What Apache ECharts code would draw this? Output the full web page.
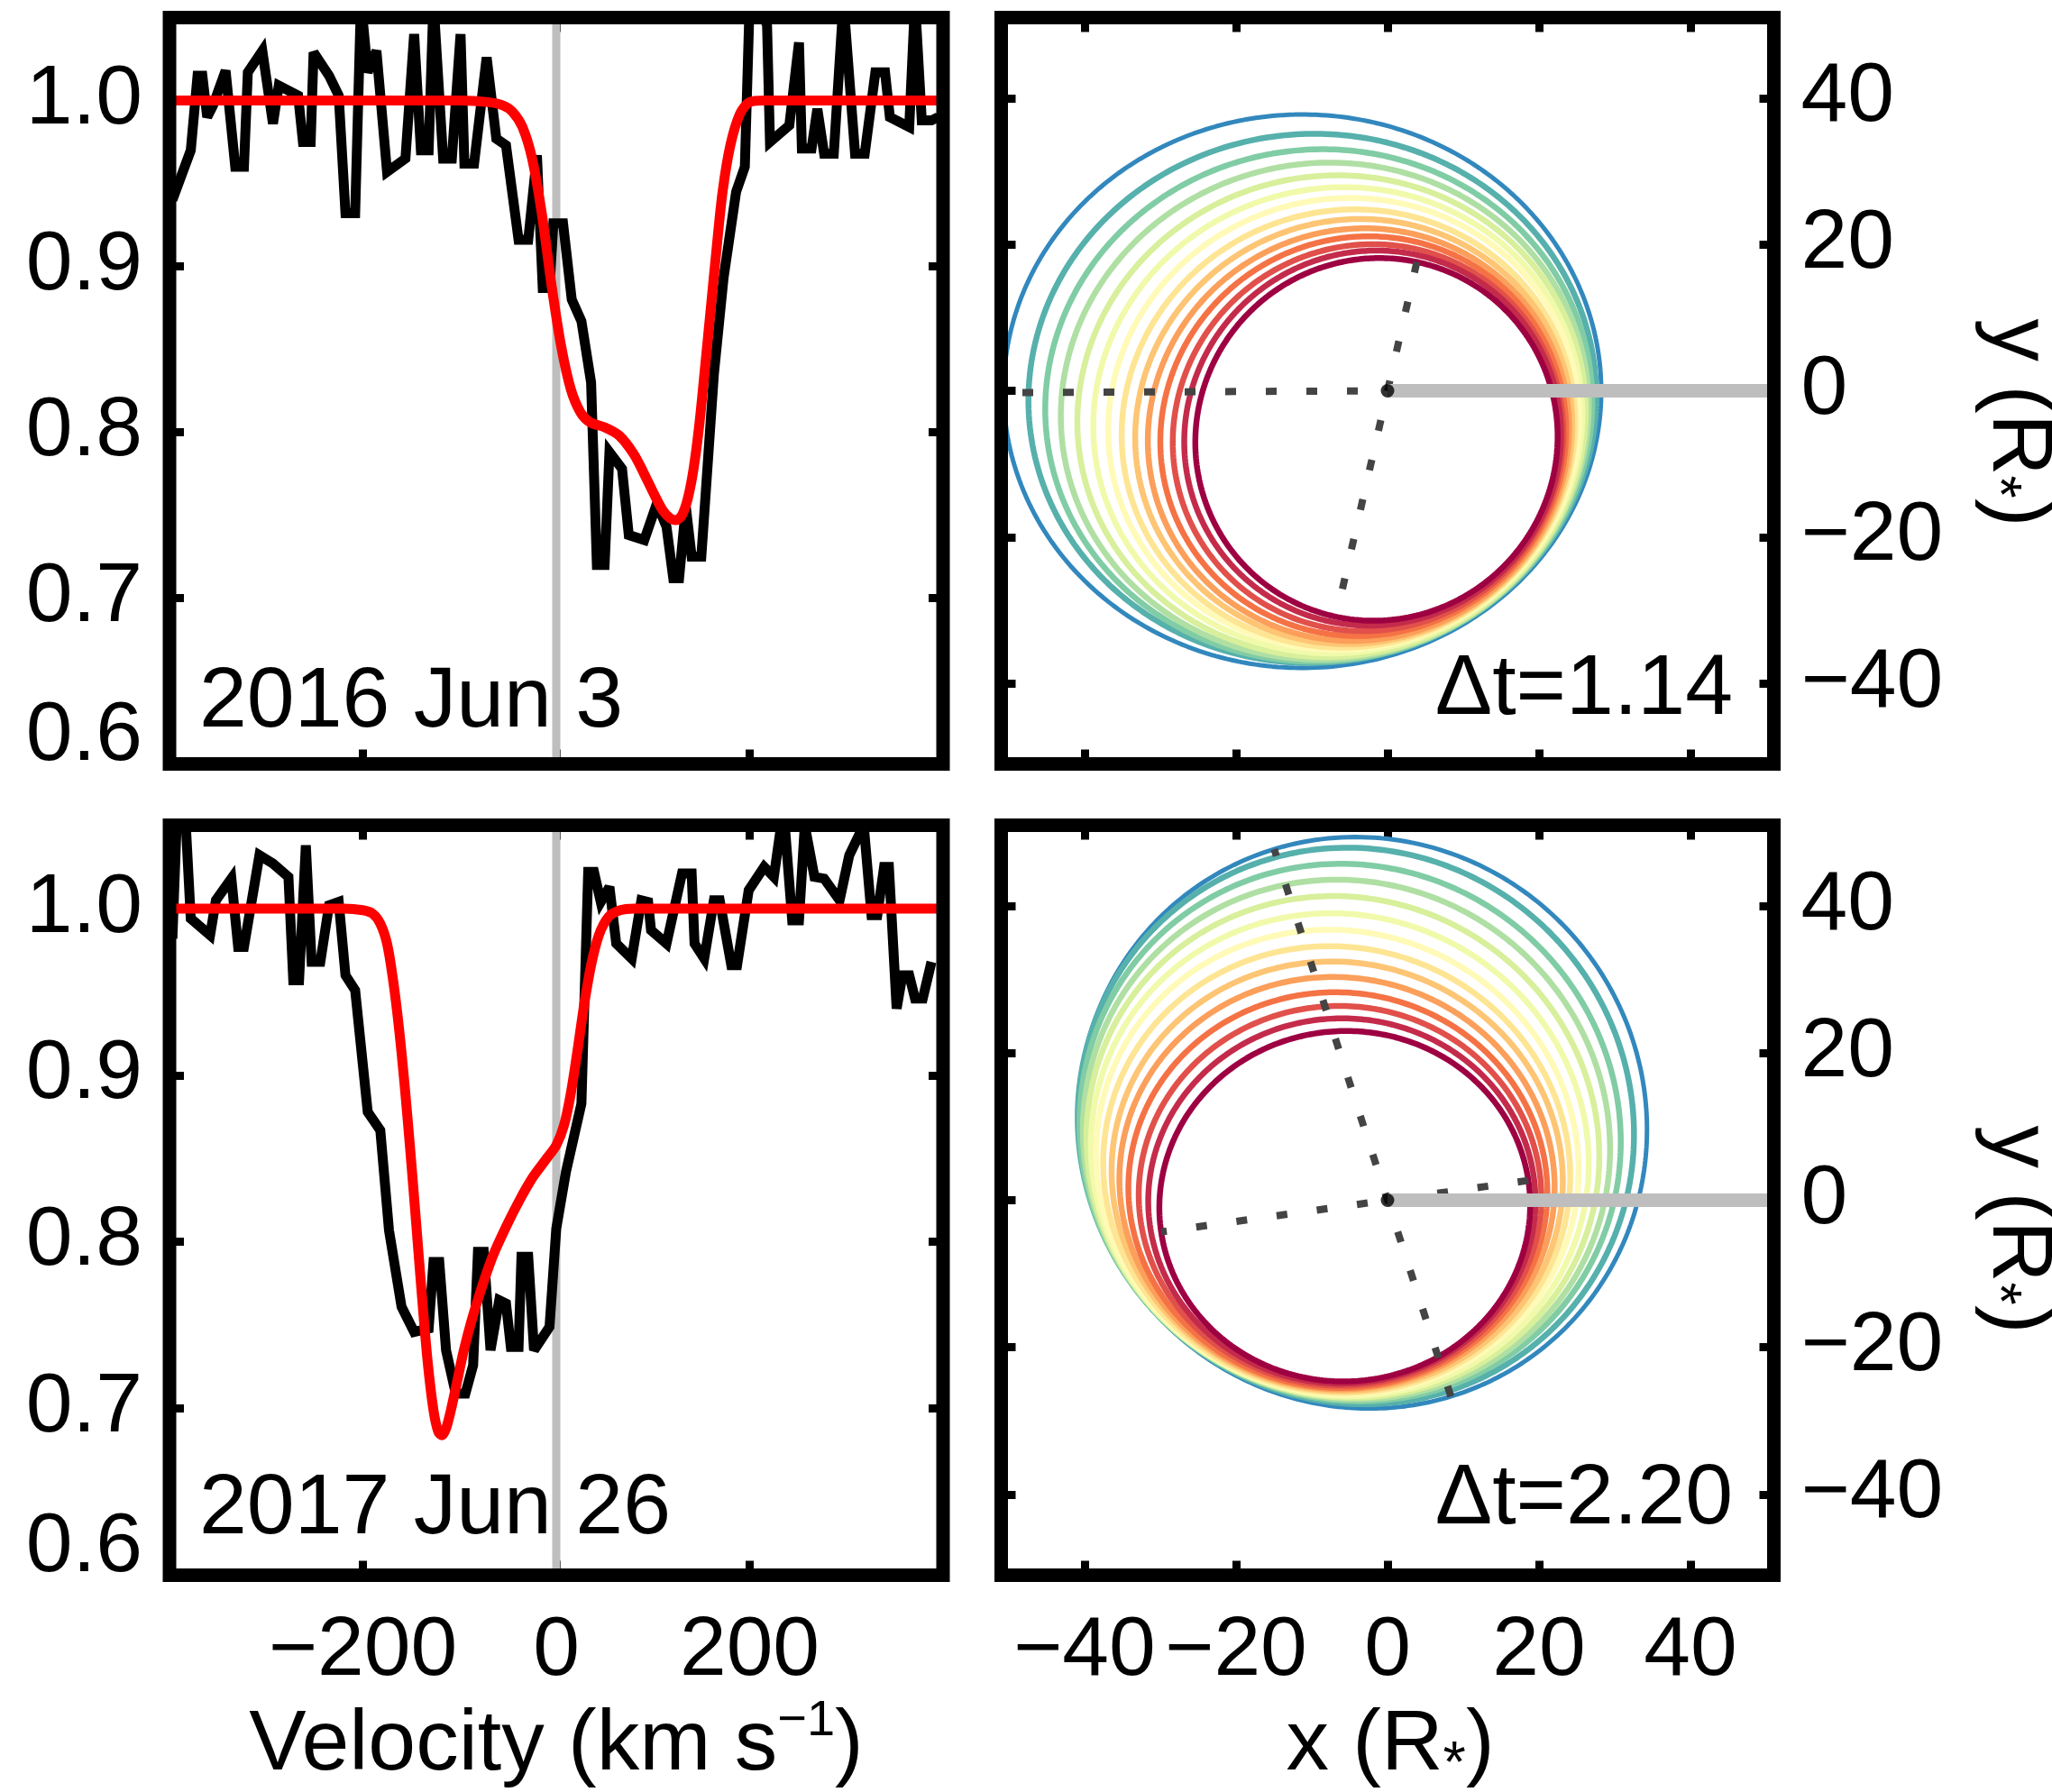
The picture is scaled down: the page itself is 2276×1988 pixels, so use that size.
<!DOCTYPE html>
<html>
<head>
<meta charset="utf-8">
<script src="https://cdn.jsdelivr.net/npm/echarts@6/dist/echarts.min.js"></script>
<style>
  html, body { margin: 0; padding: 0; background: #fff; }
  #chart { width: 2276px; height: 1988px; }
</style>
</head>
<body>
<div id="chart"></div>
<script>
// ---------- line profiles (velocity in km/s, normalised flux) ----------
const obs2016Vel  = [-397,-378,-371,-366,-361,-355,-342,-332,-323,-319,-304,-293,-287,-267,-262,-254,-251,-235,-225,-218,-208,-202,-195,-186,-175,-156,-147,-140,-132,-127,-117,-108,-99,-95,-85,-72,-62,-52,-39,-29,-20,-14,-7,-3,7,16,26,36,42,50,55,68,75,91,104,114,121,127,134,140,150,163,173,186,195,200,210,218,221,241,251,254,264,270,277,287,297,309,319,330,340,345,365,371,378,388,395];
const obs2016Flux = [0.94,0.97,1.015,1.015,0.99,0.997,1.018,0.96,0.96,1.017,1.03,0.986,1.009,1.003,0.975,0.975,1.029,1.015,1.003,0.932,0.932,1.06,1.017,1.03,0.957,0.965,1.04,0.97,0.97,1.06,0.965,0.965,1.04,0.962,0.962,1.026,0.977,0.973,0.916,0.916,0.967,0.887,0.887,0.926,0.926,0.88,0.867,0.83,0.72,0.72,0.788,0.778,0.738,0.735,0.757,0.743,0.712,0.712,0.755,0.725,0.725,0.835,0.893,0.945,0.96,1.06,1.06,1.045,0.975,0.985,1.035,0.971,0.971,0.995,0.968,0.968,1.06,0.968,0.968,1.017,1.017,0.99,0.984,1.06,0.988,0.988,0.99];

const model2016Vel  = [-400,-200,-100,-70,-55,-45,-35,-25,-15,-5,5,15,25,35,50,65,80,90,100,110,118,124,130,136,142,148,154,160,166,172,180,190,200,215,300,400];
const model2016Flux = [1,1,1,0.999,0.997,0.993,0.984,0.965,0.932,0.889,0.852,0.826,0.812,0.806,0.803,0.798,0.787,0.776,0.764,0.753,0.748,0.747,0.750,0.760,0.778,0.805,0.840,0.876,0.912,0.945,0.973,0.992,0.999,1,1,1];

const obs2017Vel  = [-397,-392,-384,-378,-358,-352,-336,-329,-323,-307,-293,-277,-272,-266,-259,-253,-244,-235,-225,-218,-208,-195,-182,-173,-160,-147,-132,-127,-121,-114,-104,-94,-86,-81,-75,-68,-59,-52,-47,-39,-36,-29,-23,-7,0,10,26,33,39,46,55,62,78,88,95,98,114,130,140,143,153,163,169,181,187,199,215,225,235,244,251,257,267,277,293,303,318,326,332,339,344,352,358,365,371,379,388];
const obs2017Flux = [0.982,1.06,1.06,0.994,0.984,1.005,1.018,0.977,0.977,1.032,1.027,1.019,0.957,0.957,1.038,0.968,0.968,1.002,1.004,0.96,0.951,0.878,0.867,0.807,0.761,0.746,0.748,0.788,0.788,0.735,0.709,0.709,0.726,0.794,0.794,0.735,0.765,0.763,0.737,0.737,0.791,0.791,0.735,0.749,0.808,0.842,0.883,1.022,1.022,1.004,1.013,0.979,0.97,1.005,1.004,0.987,0.979,1.021,1.021,0.979,0.97,1.005,1.005,0.966,0.966,1.011,1.025,1.019,1.06,0.993,0.993,1.05,1.019,1.018,1.005,1.032,1.05,0.996,0.996,1.025,1.025,0.94,0.96,0.96,0.946,0.946,0.968];

const model2017Vel  = [-400,-300,-220,-200,-190,-182,-175,-169,-163,-157,-151,-145,-139,-133,-127,-122,-118,-114,-109,-103,-96,-88,-78,-66,-52,-38,-24,-10,0,8,15,22,29,36,44,54,66,80,100,200,400];
const model2017Flux = [1,1,1,0.999,0.997,0.991,0.979,0.958,0.930,0.895,0.855,0.812,0.768,0.728,0.699,0.686,0.684,0.688,0.699,0.715,0.734,0.752,0.771,0.791,0.809,0.825,0.839,0.850,0.858,0.870,0.889,0.915,0.943,0.966,0.984,0.995,0.999,1,1,1,1];

// ---------- ring orbits (focus at the star): semi-major axis (R*), eccentricity, periastron angle (deg) ----------
// ordered from the outermost ring to the innermost one
const ring2016A     = [39.45,37.50,36.17,34.96,33.74,32.53,31.42,30.38,29.39,28.45,27.50,26.56,25.70,24.82];
const ring2016E     = [0.285,0.266,0.257,0.250,0.242,0.237,0.234,0.240,0.243,0.250,0.254,0.260,0.263,0.274];
const ring2016Omega = [0.3,6.0,12.5,18.6,25.2,31.6,38.1,45.0,51.4,57.4,62.7,68.1,73.1,77.6];

const ring2017A     = [39.00,38.08,36.89,35.76,34.62,33.44,32.28,31.11,29.96,28.82,27.69,26.58,25.56,24.49];
const ring2017E     = [0.283,0.287,0.283,0.276,0.270,0.264,0.261,0.254,0.247,0.245,0.242,0.237,0.236,0.233];
const ring2017Omega = [-72.6,-67.5,-61.8,-56.7,-50.9,-44.5,-38.1,-31.9,-26.1,-19.2,-11.9,-5.4,1.0,8.2];

// ---------- axes ----------
const velocityTicks = [-200, 0, 200];
const fluxTicks = [0.6, 0.7, 0.8, 0.9, 1.0];
const positionTicks = [-40, -20, 0, 20, 40];
const VEL_RANGE = [-400, 400];
const FLUX_RANGE = [0.6, 1.05];
const POS_RANGE = [-51, 51];

const dateLabels = ['2016 Jun 3', '2017 Jun 26'];
const dtLabels = ['\u0394t=1.14', '\u0394t=2.20'];

// Spectral palette, outermost ring first
const RING_COLORS = ['#3288bd','#56b0ac','#80cca5','#afdfa3','#d8ef9b','#f1faaa','#fffab7','#fee593','#fdc574','#fb9f5a','#f57245','#e1504a','#c42b4b','#9e0142'];

const FONT = '"Liberation Sans", Arial, Helvetica, sans-serif';
const TICK_FS = 93;
const TEXT_FS = 95;

const zip = (xs, ys) => xs.map((x, i) => [x, ys[i]]);
const minus = v => (v < 0 ? '\u2212' + Math.abs(v) : String(v));

function ringPoints(a, e, omegaDeg) {
  const w = omegaDeg * Math.PI / 180;
  const p = a * (1 - e * e);
  const pts = [];
  for (let k = 0; k <= 360; k++) {
    const phi = k * Math.PI / 180;
    const r = p / (1 + e * Math.cos(phi - w));
    pts.push([r * Math.cos(phi), r * Math.sin(phi)]);
  }
  return pts;
}
function apsidesLine(a, e, omegaDeg) {
  const w = omegaDeg * Math.PI / 180;
  const rp = a * (1 - e), ra = a * (1 + e);
  return [[rp * Math.cos(w), rp * Math.sin(w)], [-ra * Math.cos(w), -ra * Math.sin(w)]];
}

// ---------- layout ----------
const COLS = [{ left: 188, width: 858 }, { left: 1110.5, width: 857 }];
const ROWS = [{ top: 19.5, height: 828 }, { top: 915.5, height: 832 }];

const grids = [];
for (let r = 0; r < 2; r++) for (let c = 0; c < 2; c++) {
  grids.push({ left: COLS[c].left, width: COLS[c].width, top: ROWS[r].top, height: ROWS[r].height,
    show: true, borderWidth: 15, borderColor: '#000', backgroundColor: 'transparent', z: 10, containLabel: false });
}

const tickStyle = ticks => ({ show: true, inside: true, length: 16, lineStyle: { color: '#000', width: 9 }, customValues: ticks });
const labelBase = { color: '#000', fontSize: TICK_FS, fontFamily: FONT };

const xAxes = [], yAxes = [];
grids.forEach((g, gi) => {
  const isSpec = gi % 2 === 0;
  const bottomRow = gi >= 2;
  const range = isSpec ? VEL_RANGE : POS_RANGE;
  const ticks = isSpec ? velocityTicks : positionTicks;
  ['bottom', 'top'].forEach(pos => {
    xAxes.push({
      type: 'value', gridIndex: gi, position: pos, min: range[0], max: range[1],
      axisLine: { show: false, onZero: false }, splitLine: { show: false },
      axisTick: tickStyle(ticks),
      axisLabel: Object.assign({ show: pos === 'bottom' && bottomRow, customValues: ticks, margin: 38, formatter: minus }, labelBase)
    });
  });
  const yr = isSpec ? FLUX_RANGE : POS_RANGE;
  const yt = isSpec ? fluxTicks : positionTicks;
  ['left', 'right'].forEach(pos => {
    const showLab = isSpec ? pos === 'left' : pos === 'right';
    yAxes.push({
      type: 'value', gridIndex: gi, position: pos, min: yr[0], max: yr[1],
      axisLine: { show: false, onZero: false }, splitLine: { show: false },
      axisTick: tickStyle(yt),
      axisLabel: Object.assign({
        show: showLab, customValues: yt, margin: 30,
        formatter: isSpec
          ? (v => (Math.abs(v - 0.6) < 1e-9 ? '{lo|' + v.toFixed(1) + '}' : v.toFixed(1)))
          : minus,
        rich: { lo: { padding: [0, 0, 60, 0], color: '#000', fontSize: TICK_FS, fontFamily: FONT } }
      }, labelBase)
    });
  });
});

// ---------- series ----------
const series = [];
function addSpectrum(gi, vel, flux, mVel, mFlux) {
  const ax = { xAxisIndex: gi * 2, yAxisIndex: gi * 2 };
  series.push(Object.assign({ type: 'line', data: [[0, FLUX_RANGE[0]], [0, FLUX_RANGE[1]]], symbol: 'none', silent: true,
    lineStyle: { color: '#bebebe', width: 9 }, z: 1 }, ax));
  series.push(Object.assign({ type: 'line', data: zip(vel, flux), symbol: 'none', silent: true,
    lineStyle: { color: '#000', width: 11, join: 'miter', miterLimit: 3 }, z: 2 }, ax));
  series.push(Object.assign({ type: 'line', data: zip(mVel, mFlux), symbol: 'none', silent: true,
    smooth: 0.3, lineStyle: { color: '#ff0000', width: 11, join: 'round' }, z: 3 }, ax));
}
function addOrbits(gi, A, E, W) {
  const ax = { xAxisIndex: gi * 2, yAxisIndex: gi * 2 };
  A.forEach((a, i) => {
    series.push(Object.assign({ type: 'line', data: ringPoints(a, E[i], W[i]), symbol: 'none', silent: true,
      lineStyle: { color: RING_COLORS[i], width: i === 0 ? 5 : 6.5 }, z: 2 }, ax));
  });
  [0, A.length - 1].forEach(i => {
    series.push(Object.assign({ type: 'line', data: apsidesLine(A[i], E[i], W[i]), symbol: 'none', silent: true,
      lineStyle: { color: '#444', width: 8, type: [12, 33], cap: 'butt' }, z: 3 }, ax));
  });
  series.push(Object.assign({ type: 'line', data: [[0, 0], [POS_RANGE[1], 0]], symbol: 'none', silent: true,
    lineStyle: { color: '#bebebe', width: 15 }, z: 4 }, ax));
  series.push(Object.assign({ type: 'scatter', data: [[0, 0]], symbolSize: 15, silent: true,
    itemStyle: { color: '#000' }, z: 5 }, ax));
}
addSpectrum(0, obs2016Vel, obs2016Flux, model2016Vel, model2016Flux);
addOrbits(1, ring2016A, ring2016E, ring2016Omega);
addSpectrum(2, obs2017Vel, obs2017Flux, model2017Vel, model2017Flux);
addOrbits(3, ring2017A, ring2017E, ring2017Omega);

// ---------- text ----------
function txt(x, y, text, align, extra) {
  return Object.assign({ type: 'text', x: x, y: y, z: 20, silent: true,
    style: Object.assign({ text: text, fill: '#000', font: TEXT_FS + 'px ' + FONT,
      textAlign: align, align: align, textVerticalAlign: 'middle', verticalAlign: 'middle' }, extra && extra.style || {}) },
    extra && extra.el || {});
}
const richTitle = {
  a: { fontSize: TEXT_FS, fontFamily: FONT, fill: '#000', color: '#000', lineHeight: 110 },
  sup: { fontSize: 56, fontFamily: FONT, fill: '#000', color: '#000', verticalAlign: 'top', lineHeight: 2 },
  sub: { fontSize: 65, fontFamily: FONT, fill: '#000', color: '#000', verticalAlign: 'bottom', lineHeight: 6 }
};
const graphic = [
  txt(221, 780, dateLabels[0], 'left'),
  txt(221, 1675, dateLabels[1], 'left'),
  txt(1922, 766, dtLabels[0], 'right'),
  txt(1922, 1664, dtLabels[1], 'right'),
  txt(617, 1937, '{a|Velocity (km s}{sup|\u22121}{a|)}', 'center', { style: { rich: richTitle } }),
  txt(1542, 1937, '{a|x (R}{sub|*}{a|)}', 'center', { style: { rich: richTitle } }),
  txt(2237, 469, '{a|y (R}{sub|*}{a|)}', 'center', { style: { rich: richTitle }, el: { rotation: -Math.PI / 2 } }),
  txt(2237, 1364, '{a|y (R}{sub|*}{a|)}', 'center', { style: { rich: richTitle }, el: { rotation: -Math.PI / 2 } })
];

const chart = echarts.init(document.getElementById('chart'), null, { renderer: 'canvas' });
chart.setOption({
  animation: false,
  backgroundColor: '#fff',
  textStyle: { fontFamily: FONT },
  grid: grids,
  xAxis: xAxes,
  yAxis: yAxes,
  series: series,
  graphic: graphic
});
</script>
</body>
</html>
